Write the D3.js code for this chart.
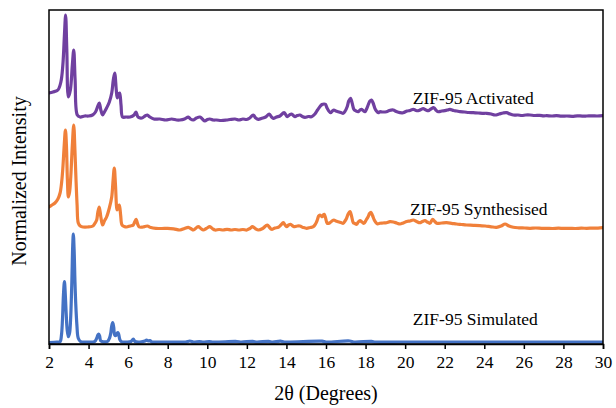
<!DOCTYPE html>
<html>
<head>
<meta charset="utf-8">
<script src="https://cdn.jsdelivr.net/npm/d3@7"></script>
<style>
  html, body { margin: 0; padding: 0; background: #fff; }
  svg { display: block; }
  svg text { font-family: "Liberation Serif", Tinos, "Times New Roman", Times, "DejaVu Serif", "Noto Serif", serif !important; }
</style>
</head>
<body>
<svg id="chart" width="616" height="408"></svg>
<script>
// ---- data (2θ in degrees, intensity in a.u. including vertical stacking) ----
const xTicks = [2,4,6,8,10,12,14,16,18,20,22,24,26,28,30];
const seriesNames = ["ZIF-95 Activated", "ZIF-95 Synthesised", "ZIF-95 Simulated"];
const seriesColors = ["#7040A0", "#F0803A", "#4472C4"];

const activated = [
[2.0,251],[2.2,252],[2.45,254],[2.6,262],[2.7,279],[2.78,309],[2.84,329],[2.9,294],[2.98,247],
[3.08,254],[3.18,279],[3.25,294],[3.32,264],[3.43,229],[3.57,227],[3.8,228],[4.0,228],[4.2,229],
[4.35,232],[4.47,238],[4.54,241],[4.62,234],[4.71,229],[4.8,232],[4.91,236],[5.05,242],[5.17,251],
[5.25,264],[5.32,271],[5.4,254],[5.45,246],[5.52,250],[5.57,251],[5.64,239],[5.72,227],[5.9,227],
[6.1,227],[6.3,229],[6.4,232],[6.5,227],[6.7,226],[6.85,228],[6.97,229],[7.1,227],[7.3,225],
[7.6,225],[7.9,224],[8.2,225],[8.45,224],[8.62,224],[8.85,225],[9.04,227],[9.15,225],[9.29,224],
[9.45,226],[9.63,227],[9.75,225],[9.88,223],[10.0,224.5],[10.13,225],[10.3,224],[10.47,224],
[10.7,223.5],[10.98,224],[11.15,224.5],[11.4,225],[11.6,224],[11.8,225],[11.99,224.5],[12.15,226],
[12.32,229],[12.45,226],[12.58,224.7],[12.75,225.7],[12.95,227],[13.13,230],[13.25,227],[13.34,225.7],
[13.5,227],[13.67,228],[13.88,231.3],[14.04,227.3],[14.15,229],[14.26,230],[14.43,227.3],[14.55,228.5],
[14.68,229],[14.8,227.5],[14.94,226.7],[15.1,227.5],[15.27,227.3],[15.44,230],[15.57,234],[15.69,237.3],
[15.8,239.5],[15.9,240],[15.97,239.7],[16.06,235.7],[16.23,231.3],[16.32,233],[16.4,234],[16.5,233],
[16.62,232.3],[16.75,231.5],[16.87,230.7],[16.97,233],[17.07,237.3],[17.15,243],[17.24,245.7],
[17.32,241],[17.41,234.7],[17.52,233],[17.63,232.3],[17.72,234],[17.8,234.7],[17.9,233],[17.97,232.3],
[18.05,235],[18.13,239],[18.22,243],[18.3,244],[18.38,241],[18.47,235.7],[18.55,233],[18.64,231.3],
[18.72,232.3],[18.85,232],[19.06,232.3],[19.2,233.5],[19.4,234],[19.55,232.5],[19.74,231.3],[19.9,231.3],
[20.1,233],[20.25,233.5],[20.41,234.7],[20.55,233.5],[20.66,233.3],[20.8,234.5],[20.91,235.3],[21.05,234],
[21.17,233.3],[21.3,235],[21.45,236.3],[21.55,234],[21.67,232.3],[21.85,233],[22.01,233.3],[22.15,234],
[22.26,234.7],[22.45,233.5],[22.6,233],[22.77,232.3],[23.0,232],[23.2,231.5],[23.44,231.3],[23.7,231],
[23.9,230.7],[24.12,230.7],[24.35,230],[24.54,229],[24.75,230],[24.95,231],[25.13,231.3],[25.3,230],
[25.47,229],[25.7,229],[25.9,228.5],[26.1,229],[26.31,229],[26.55,228.5],[26.8,228.7],[27.0,228.2],
[27.16,228.3],[27.4,228],[27.65,228.4],[27.9,227.8],[28.17,228],[28.45,227.7],[28.7,228.2],[28.95,227.9],
[29.18,228],[29.45,228.2],[29.7,228],[30.0,228.3]
];

const synthesised = [
[2.0,137],[2.15,139],[2.3,141],[2.45,145],[2.56,151],[2.64,162],[2.7,176],[2.77,199],[2.83,214],
[2.88,199],[2.93,164],[2.98,147],[3.04,152],[3.1,167],[3.18,199],[3.25,219],[3.31,194],[3.36,167],
[3.42,139],[3.48,121],[3.58,118],[3.72,117],[3.95,117],[4.22,118],[4.33,121],[4.41,124],[4.47,132],
[4.54,137],[4.62,127],[4.71,119],[4.8,123],[4.91,127],[5.05,136],[5.17,147],[5.24,164],[5.3,176],
[5.36,159],[5.44,134],[5.5,138],[5.55,139],[5.62,129],[5.69,119],[5.8,117.5],[5.92,117],[6.1,118],
[6.26,119],[6.33,122],[6.4,124.7],[6.48,120],[6.56,117],[6.75,117],[6.97,118],[7.15,116.5],[7.4,115.7],
[7.7,115.5],[8.0,115.7],[8.3,115.2],[8.62,114],[8.85,115.5],[9.04,116.7],[9.2,115],[9.3,114],
[9.54,117.3],[9.67,115.5],[9.8,114],[9.95,115.5],[10.13,117.3],[10.25,115.5],[10.39,114],[10.6,114.5],
[10.8,114],[11.0,114.7],[11.2,114],[11.4,114.5],[11.6,114],[11.8,114.5],[12.0,114],[12.15,115.5],
[12.29,117.3],[12.45,115],[12.58,114],[12.8,115.5],[13.03,119],[13.15,116.5],[13.25,114.7],[13.42,116],
[13.59,116.7],[13.72,119],[13.84,121.3],[13.93,119],[14.01,117.3],[14.11,119],[14.21,119.7],[14.32,118],
[14.43,117.3],[14.55,118],[14.68,118],[14.85,116.5],[15.02,115.7],[15.2,116.5],[15.36,117.3],[15.47,120],
[15.56,124],[15.63,128],[15.69,129],[15.76,128],[15.81,127.3],[15.86,129],[15.91,129.7],[15.98,126],
[16.06,120.7],[16.2,121.3],[16.3,123],[16.4,124],[16.5,123],[16.62,122.3],[16.75,121.5],[16.87,120.7],
[16.96,123],[17.04,125.7],[17.12,130],[17.21,132.3],[17.29,128],[17.38,121.3],[17.46,120.5],[17.55,119.7],
[17.63,122],[17.72,123.3],[17.82,122],[17.92,120.7],[18.03,124],[18.13,127.3],[18.2,130.5],[18.27,131.7],
[18.35,128.5],[18.44,124],[18.52,121.5],[18.61,120],[18.72,120.7],[18.88,121],[19.06,121.3],[19.23,122.3],
[19.4,122],[19.57,121],[19.74,120],[19.9,121],[20.08,122.5],[20.25,123],[20.41,124],[20.58,122.5],
[20.74,121.3],[20.87,122.5],[21.0,123.3],[21.12,122],[21.25,120.7],[21.39,124.7],[21.5,122.5],[21.6,120.7],
[21.85,121],[22.09,121.3],[22.35,120.7],[22.6,120],[22.85,119.5],[23.1,119],[23.45,118.7],[23.78,118.3],
[24.05,118],[24.35,117.2],[24.62,116.7],[24.85,118],[25.05,120],[25.25,118],[25.47,116.7],[25.75,116.2],
[26.05,116],[26.31,115.7],[26.6,116],[26.9,115.7],[27.16,115.7],[27.45,115.5],[27.75,115.8],[28.0,115.6],
[28.3,115.7],[28.6,115.5],[28.9,115.8],[29.18,115.7],[29.5,115.9],[29.75,115.8],[30.0,116.3]
];

const simulated = [
[2.0,1.5],[2.4,2],[2.56,2.3],[2.63,9],[2.68,24],[2.73,49],[2.78,62.3],[2.82,51],[2.86,34],[2.92,14],
[2.98,7.3],[3.04,11],[3.09,24],[3.15,59],[3.2,99],[3.23,110],[3.27,94],[3.31,64],[3.35,41],[3.41,19],
[3.48,5.7],[3.6,2.3],[3.9,2],[4.3,2.3],[4.41,5.7],[4.47,9],[4.51,10],[4.56,8],[4.61,3.3],[4.75,2.2],
[4.95,2.5],[5.06,6],[5.12,10.7],[5.17,18],[5.22,21.3],[5.27,17],[5.32,9],[5.38,8.5],[5.45,11],[5.49,11.3],
[5.53,9],[5.58,4.5],[5.66,2.3],[5.9,2],[6.15,2.5],[6.26,5],[6.35,2.5],[6.6,2],[6.85,3],[6.93,4],
[7.02,3],[7.1,3.5],[7.2,2],[7.5,2],[8.0,2],[8.9,2],[9.12,3],[9.3,2],[9.6,2.5],[9.8,2],[10.1,2.5],
[10.3,2],[11.5,2.5],[11.7,2],[12.3,2.6],[12.5,2],[13.1,2.6],[13.3,2],[13.7,2.8],[13.9,2],[15.8,2.8],
[16.0,2],[17.2,3],[17.4,2],[18.3,2.6],[18.5,2],[20.0,2],[22.0,2],[25.0,2],[30.0,2]
];

const allSeries = [activated, synthesised, simulated];
// label anchors in data units (2θ, a.u.)
const labelAnchors = [[20.39,240.5],[20.24,129],[20.39,19]];

// ---- layout ----
const FONT = '"Liberation Serif", Tinos, "Times New Roman", Times, "DejaVu Serif", "Noto Serif", serif';
const svg = d3.select("#chart");
const mLeft = 49, mRight = 603, mTop = 10, mBottom = 344;

const x = d3.scaleLinear().domain([2, 30]).range([mLeft, mRight]);
const y = d3.scaleLinear().domain([0, 334]).range([mBottom, mTop]);

svg.append("defs").append("clipPath").attr("id", "clip")
  .append("rect").attr("x", mLeft).attr("y", mTop)
  .attr("width", mRight - mLeft).attr("height", mBottom - mTop);

const line = d3.line().x(d => x(d[0])).y(d => y(d[1])).curve(d3.curveCatmullRom.alpha(0.5));

const g = svg.append("g").attr("clip-path", "url(#clip)");
allSeries.forEach((s, i) => {
  g.append("path").datum(s)
    .attr("fill", "none")
    .attr("stroke", seriesColors[i])
    .attr("stroke-width", 3.2)
    .attr("stroke-linejoin", "round")
    .attr("stroke-linecap", "round")
    .attr("d", line);
});

// frame
svg.append("rect").attr("x", mLeft).attr("y", mTop)
  .attr("width", mRight - mLeft).attr("height", mBottom - mTop)
  .attr("fill", "none").attr("stroke", "#000").attr("stroke-width", 1.5);

// x axis
const xAxis = d3.axisBottom(x).tickValues(xTicks).tickSize(5).tickPadding(7)
  .tickFormat(d3.format("d"));
const ax = svg.append("g").attr("transform", `translate(0,${mBottom})`).call(xAxis)
  .attr("font-family", FONT).attr("font-size", 17.5);
ax.select(".domain").attr("stroke", "#000").attr("stroke-width", 1.5);
ax.selectAll(".tick line").attr("stroke", "#000").attr("stroke-width", 1.5);
ax.selectAll(".tick text").attr("fill", "#000").attr("font-family", FONT).attr("font-size", 17.5);

// axis titles
svg.append("text").attr("x", (mLeft + mRight) / 2).attr("y", 400)
  .attr("text-anchor", "middle").attr("font-family", FONT).attr("font-size", 20).attr("fill", "#000")
  .text("2θ (Degrees)");
svg.append("text")
  .attr("transform", `translate(26,${(mTop + mBottom) / 2 + 4}) rotate(-90)`)
  .attr("text-anchor", "middle").attr("font-family", FONT).attr("font-size", 20).attr("fill", "#000")
  .text("Normalized Intensity");

// series labels
seriesNames.forEach((name, i) => {
  svg.append("text")
    .attr("x", x(labelAnchors[i][0])).attr("y", y(labelAnchors[i][1]))
    .attr("font-family", FONT).attr("font-size", 17.5).attr("fill", "#000")
    .text(name);
});
</script>
</body>
</html>
